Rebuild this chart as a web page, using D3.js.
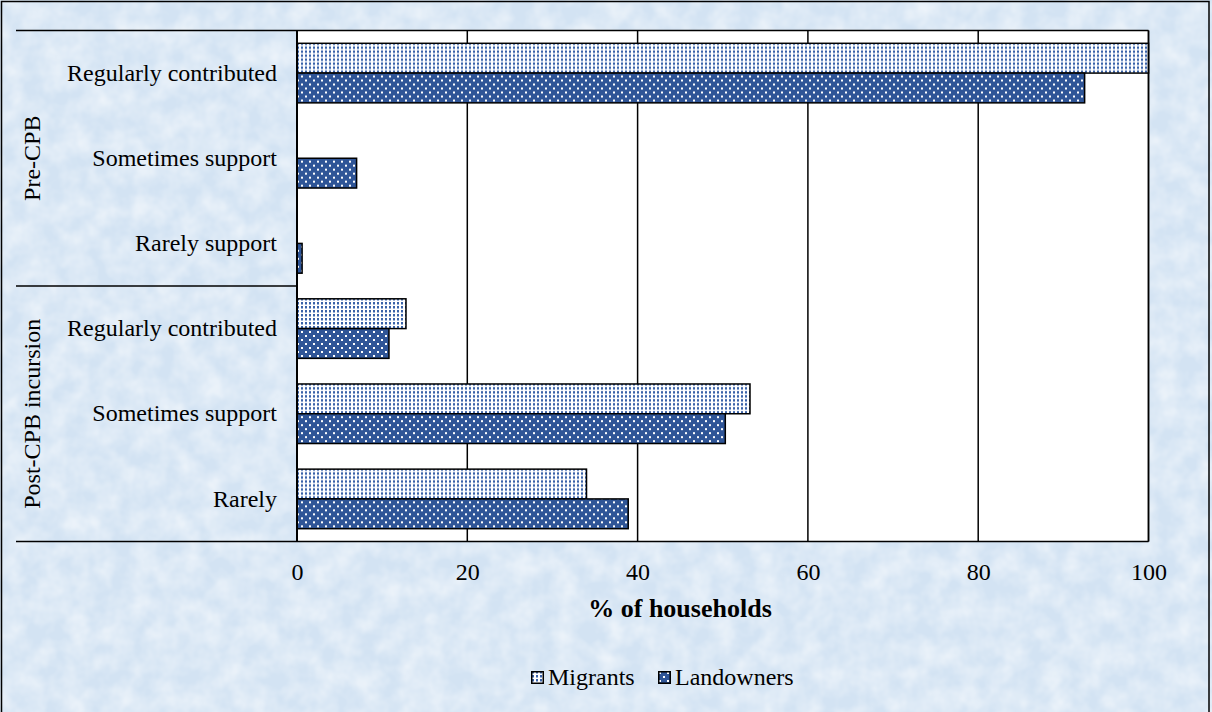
<!DOCTYPE html>
<html>
<head>
<meta charset="utf-8">
<script src="https://cdn.jsdelivr.net/npm/d3@7/dist/d3.min.js"></script>
<style>
  html, body { margin: 0; padding: 0; background: #fff; }
  svg { display: block; }
  text { font-family: "Liberation Serif", "Times New Roman", serif; fill: #000; }
</style>
</head>
<body>
<svg id="chart" width="1212" height="712"></svg>
<script>
// Household support by period (% of households)
const groups = ["Pre-CPB", "Post-CPB incursion"];
const groupOf = [0, 0, 0, 1, 1, 1];
const categories = ["Regularly contributed", "Sometimes support", "Rarely support",
                    "Regularly contributed", "Sometimes support", "Rarely"];
const seriesNames = ["Migrants", "Landowners"];
const migrants = [100, 0, 0, 12.8, 53.2, 34.0];
const landowners = [92.5, 7.0, 0.6, 10.8, 50.3, 38.9];
const xTicks = [0, 20, 40, 60, 80, 100];

const W = 1212, H = 712;
const plot = { left: 297, right: 1148.5, top: 30.5, bottom: 541.5 };

const svg = d3.select("#chart");
const defs = svg.append("defs");

// paper-like background texture
const f = defs.append("filter").attr("id", "paper").attr("x", 0).attr("y", 0)
  .attr("width", "100%").attr("height", "100%");
f.append("feTurbulence").attr("type", "fractalNoise").attr("baseFrequency", "0.045")
  .attr("numOctaves", 3).attr("seed", 7).attr("result", "noise");
f.append("feColorMatrix").attr("in", "noise").attr("type", "matrix")
  .attr("values", "0 0 0 0 1  0 0 0 0 1  0 0 0 0 1  0 0 0 0.9 -0.25").attr("result", "wash");
f.append("feComposite").attr("in", "wash").attr("in2", "SourceGraphic").attr("operator", "in");

// fill patterns for the two series
const pm = defs.append("pattern").attr("id", "patMigrants").attr("patternUnits", "userSpaceOnUse")
  .attr("width", 4).attr("height", 4);
pm.append("rect").attr("width", 4).attr("height", 4).attr("fill", "#ffffff");
pm.append("rect").attr("x", 1).attr("y", 0).attr("width", 2).attr("height", 2).attr("fill", "#3a62a8");
pm.append("rect").attr("x", 1).attr("y", 2).attr("width", 2).attr("height", 1).attr("fill", "#9db3d8");

const pl = defs.append("pattern").attr("id", "patLandowners").attr("patternUnits", "userSpaceOnUse")
  .attr("width", 8).attr("height", 8);
pl.append("rect").attr("width", 8).attr("height", 8).attr("fill", "#2f5597");
pl.append("rect").attr("x", 1).attr("y", 1).attr("width", 2).attr("height", 2).attr("fill", "#ffffff");
pl.append("rect").attr("x", 5).attr("y", 5).attr("width", 2).attr("height", 2).attr("fill", "#ffffff");

const fills = { Migrants: "url(#patMigrants)", Landowners: "url(#patLandowners)" };

// background and outer frame
svg.append("rect").attr("width", W).attr("height", H).attr("fill", "#d3e3f3");
svg.append("rect").attr("width", W).attr("height", H).attr("fill", "#d3e3f3").attr("filter", "url(#paper)");
svg.append("rect").attr("x", 1.5).attr("y", 1.5).attr("width", 1207.5).attr("height", 740)
  .attr("fill", "none").attr("stroke", "#000").attr("stroke-width", 1.5);

// scales
const x = d3.scaleLinear().domain([0, 100]).range([plot.left, plot.right]);
const keys = categories.map((c, i) => i);
const y0 = d3.scaleBand().domain(keys).range([plot.top, plot.bottom]).padding(0);
const y1 = d3.scaleBand().domain(seriesNames).range([0, y0.bandwidth()])
  .paddingInner(0).paddingOuter(0.43);

// plot area
svg.append("rect").attr("x", plot.left).attr("y", plot.top)
  .attr("width", plot.right - plot.left).attr("height", plot.bottom - plot.top)
  .attr("fill", "#ffffff");

// vertical gridlines
svg.append("g").selectAll("line").data(xTicks.slice(1)).join("line")
  .attr("x1", d => x(d)).attr("x2", d => x(d))
  .attr("y1", plot.top).attr("y2", plot.bottom)
  .attr("stroke", "#000").attr("stroke-width", 1.5);

// top and bottom frame of plot
svg.append("line").attr("x1", plot.left).attr("x2", plot.right).attr("y1", plot.top).attr("y2", plot.top)
  .attr("stroke", "#000").attr("stroke-width", 1.5);
svg.append("line").attr("x1", plot.left).attr("x2", plot.right).attr("y1", plot.bottom).attr("y2", plot.bottom)
  .attr("stroke", "#000").attr("stroke-width", 1.5);

// bars
const rows = keys.map(i => ({ i, values: [
  { s: "Migrants", v: migrants[i] },
  { s: "Landowners", v: landowners[i] }
]}));
const rowG = svg.append("g").selectAll("g").data(rows).join("g")
  .attr("transform", d => `translate(0,${y0(d.i)})`);
rowG.selectAll("rect").data(d => d.values.filter(e => e.v > 0)).join("rect")
  .attr("x", x(0))
  .attr("y", d => y1(d.s))
  .attr("width", d => x(d.v) - x(0))
  .attr("height", y1.bandwidth())
  .attr("fill", d => fills[d.s])
  .attr("stroke", "#000").attr("stroke-width", 1.5);

// x axis
const xAxis = svg.append("g").attr("transform", `translate(0,${plot.bottom})`)
  .call(d3.axisBottom(x).tickValues(xTicks).tickSize(0).tickPadding(21).tickFormat(d3.format("d")));
xAxis.select(".domain").remove();
xAxis.selectAll("text").style("font-size", "24px").style("font-family", "Liberation Serif");

// category axis
const yAxis = svg.append("g").attr("transform", `translate(${plot.left},0)`)
  .call(d3.axisLeft(y0).tickSize(0).tickPadding(20).tickFormat(i => categories[i]));
yAxis.select(".domain").remove();
yAxis.selectAll("text").style("font-size", "24px").style("font-family", "Liberation Serif");

// left axis line
svg.append("line").attr("x1", plot.left).attr("x2", plot.left)
  .attr("y1", plot.top).attr("y2", plot.bottom)
  .attr("stroke", "#000").attr("stroke-width", 2);
// right edge of plot
svg.append("line").attr("x1", plot.right).attr("x2", plot.right)
  .attr("y1", plot.top).attr("y2", plot.bottom)
  .attr("stroke", "#000").attr("stroke-width", 1.5);

// group separators and group labels
const groupStarts = groups.map((g, gi) => keys.find(i => groupOf[i] === gi));
const groupEnds = groups.map((g, gi) => keys.filter(i => groupOf[i] === gi).slice(-1)[0]);
const sepY = groupStarts.map(i => y0(i)).concat([y0(groupEnds[groupEnds.length - 1]) + y0.bandwidth()]);
svg.append("g").selectAll("line").data(sepY).join("line")
  .attr("x1", 16).attr("x2", plot.left)
  .attr("y1", d => d).attr("y2", d => d)
  .attr("stroke", "#000").attr("stroke-width", 1.5);

svg.append("g").selectAll("text").data(groups).join("text")
  .attr("transform", (g, gi) => {
    const cy = (y0(groupStarts[gi]) + y0(groupEnds[gi]) + y0.bandwidth()) / 2;
    return `translate(39.5,${cy}) rotate(-90)`;
  })
  .attr("text-anchor", "middle")
  .style("font-size", "24px")
  .text(d => d);

// axis title
svg.append("text").attr("x", 680).attr("y", 617).attr("text-anchor", "middle")
  .style("font-size", "26px").style("font-weight", "bold")
  .style("font-family", "Liberation Serif")
  .text("% of households");

// legend
const legendItems = [
  { s: "Migrants", x: 531 },
  { s: "Landowners", x: 658 }
];
const lg = svg.append("g").selectAll("g").data(legendItems).join("g")
  .attr("transform", d => `translate(${d.x},671)`);
lg.append("rect").attr("x", 0.75).attr("y", 0.75).attr("width", 11.5).attr("height", 11.5)
  .attr("fill", d => fills[d.s]).attr("stroke", "#000").attr("stroke-width", 1.5);
lg.append("text").attr("x", 17).attr("y", 13.5).style("font-size", "24px").text(d => d.s);
</script>
</body>
</html>
